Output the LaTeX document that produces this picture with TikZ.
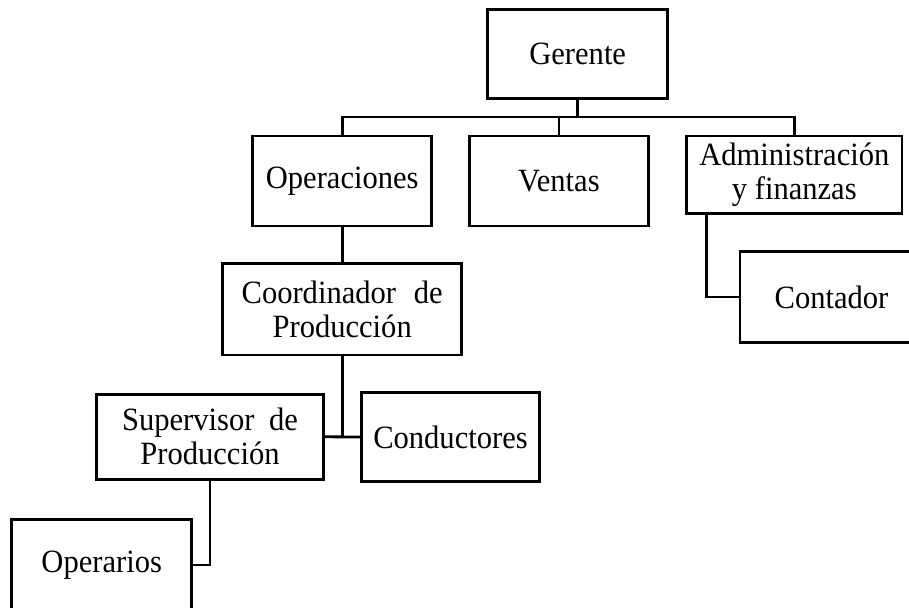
\documentclass[tikz,border=0pt]{standalone}
\usepackage{fontspec}
\setmainfont[FakeStretch=0.94]{Liberation Serif}
\begin{document}
\begin{tikzpicture}[x=1pt,y=-1pt,
  box/.style={draw, line width=2.8pt, inner sep=0pt, align=center,
    font=\fontsize{32.5}{34}\selectfont},
  link/.style={line width=2.8pt}]
\useasboundingbox (0,0) rectangle (909,607);
\clip (0,0) rectangle (909,607);
\node[box, minimum width=180pt, minimum height=89pt] (ger) at (577.7,53.8) {Gerente};
\node[box, minimum width=179pt, minimum height=90pt] (ope) at (342.2,181) {Operaciones};
\node[box, minimum width=179pt, minimum height=90pt] (ven) at (558.9,181) {Ventas};
\node[box, minimum width=215.5pt, minimum height=77.3pt] (adm) at (794.3,174.7) {Administraci\'on\\y finanzas};
\node[box, minimum width=239pt, minimum height=91.7pt] (coo) at (342.2,309.2) {Coordinador\hspace{0.55em}de\\Producci\'on};
\node[box, minimum width=226.6pt, minimum height=85pt] (sup) at (210,436.8) {Supervisor\hspace{0.45em}de\\Producci\'on};
\node[box, minimum width=177.6pt, minimum height=88.6pt] (cnd) at (450.5,437) {Conductores};
\node[box, minimum width=183pt, minimum height=90.6pt] (cnt) at (831.5,297) {Contador};
\node[box, minimum width=180pt, minimum height=91.7pt] (opr) at (101.7,565) {Operarios};
\coordinate (bus) at (0,117);
\draw[link] (ger.south) -- (ger.south |- bus);
\draw[link] (ope.north) -- (ope.north |- bus) -- (adm.north |- bus) -- (adm.north);
\draw[link] (ven.north) -- (ven.north |- bus);
\draw[link] (ope.south) -- (coo.north);
\draw[link] (coo.south) -- (coo.south |- sup.east);
\draw[link] (sup.east) -- (cnd.west);
\draw[link] (sup.south) |- (opr.east);
\draw[link] ([xshift=21.5pt]adm.south west) |- (cnt.west);
\end{tikzpicture}
\end{document}
